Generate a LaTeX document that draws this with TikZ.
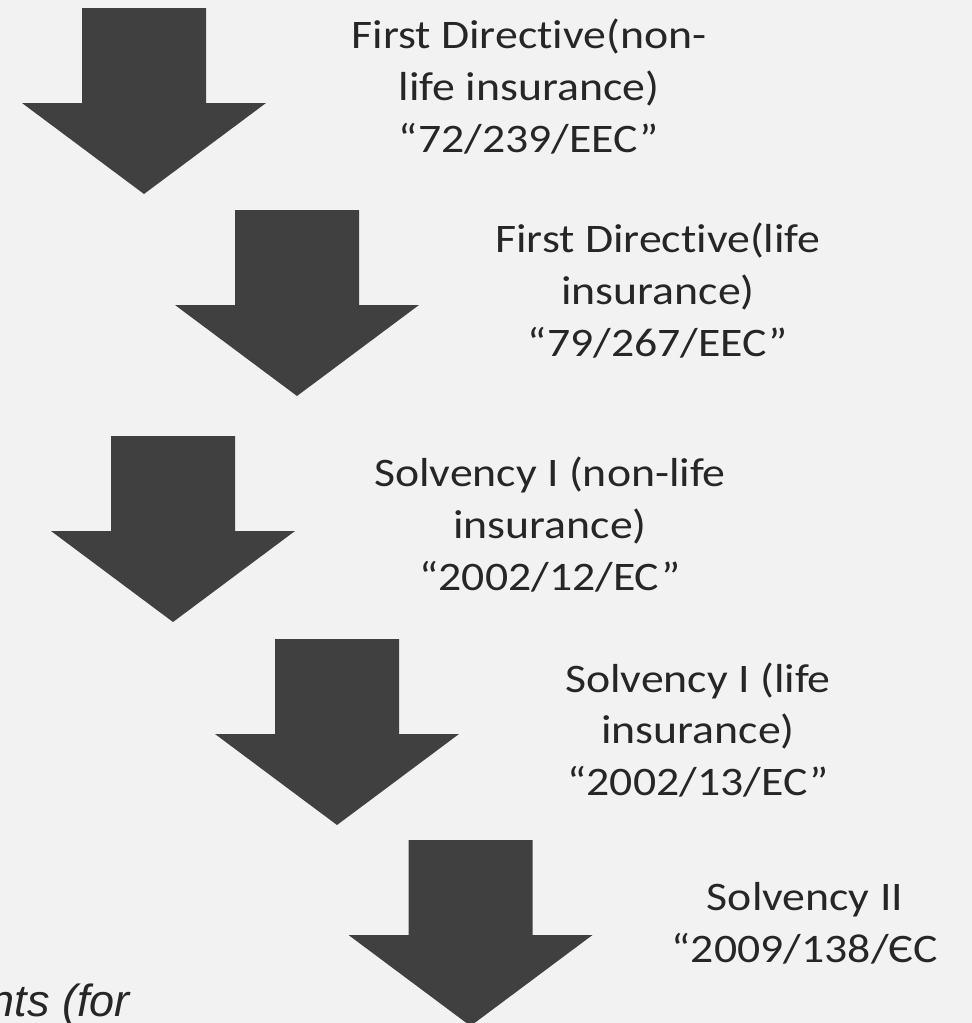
\documentclass[tikz,border=0pt]{standalone}
\usepackage{fontspec}
\setmainfont{Carlito}[Ligatures=NoCommon]
\newfontfamily\notefont{Liberation Sans}
\definecolor{bg}{HTML}{F2F2F2}
\definecolor{arrowgray}{HTML}{404040}
\definecolor{notegray}{HTML}{262626}
% captions are set a little wider than the face's natural width
\newcommand{\widetext}[1]{\scalebox{1.13}[1]{#1}}
\begin{document}
\begin{tikzpicture}[x=1pt,y=-1pt,
  downarrow/.pic={\fill[arrowgray] (-62,0) -- (62,0) -- (62,95) -- (122,95)
      -- (0,186) -- (-122,95) -- (-62,95) -- cycle;},
  lbl/.style={font=\fontsize{40.5}{48}\selectfont, anchor=base, inner sep=0pt, text=black!85},
  note/.style={font=\notefont\itshape\fontsize{45}{54}\selectfont, anchor=base east,
      inner sep=0pt, text=notegray}]
  % page and clipping frame
  \fill[bg] (0,0) rectangle (972,1023);
  \useasboundingbox (0,0) rectangle (972,1023);
  \clip (0,0) rectangle (972,1023);

  % the five steps, each arrow placed by the top centre of its shaft
  \pic (a1) at (144,8)     {downarrow};
  \pic (a2) at (297,210)   {downarrow};
  \pic (a3) at (173,436)   {downarrow};
  \pic (a4) at (337,639)   {downarrow};
  \pic (a5) at (470.5,840) {downarrow};

  % directive captions, one node per line
  \node[lbl] (t1a) at (529,48)  {\widetext{First Directive(non-}};
  \node[lbl] (t1b) at (529,100) {\widetext{life insurance)}};
  \node[lbl] (t1c) at (529,152) {\widetext{“72/239/EEC”}};

  \node[lbl] (t2a) at (658,252) {\widetext{First Directive(life}};
  \node[lbl] (t2b) at (658,304) {\widetext{insurance)}};
  \node[lbl] (t2c) at (658,356) {\widetext{“79/267/EEC”}};

  \node[lbl] (t3a) at (550,486) {\widetext{Solvency I (non-life}};
  \node[lbl] (t3b) at (550,538) {\widetext{insurance)}};
  \node[lbl] (t3c) at (550,590) {\widetext{“2002/12/EC”}};

  \node[lbl] (t4a) at (698,692) {\widetext{Solvency I (life}};
  \node[lbl] (t4b) at (698,743) {\widetext{insurance)}};
  \node[lbl] (t4c) at (698,795) {\widetext{“2002/13/EC”}};

  \node[lbl] (t5a) at (805,910) {\widetext{Solvency II}};
  \node[lbl] (t5b) at (805,962) {\widetext{“2009/138/ЄC}};

  % running text at the lower left edge
  \node[note] (nt) at (130,1016) {nts (for};
\end{tikzpicture}
\end{document}
